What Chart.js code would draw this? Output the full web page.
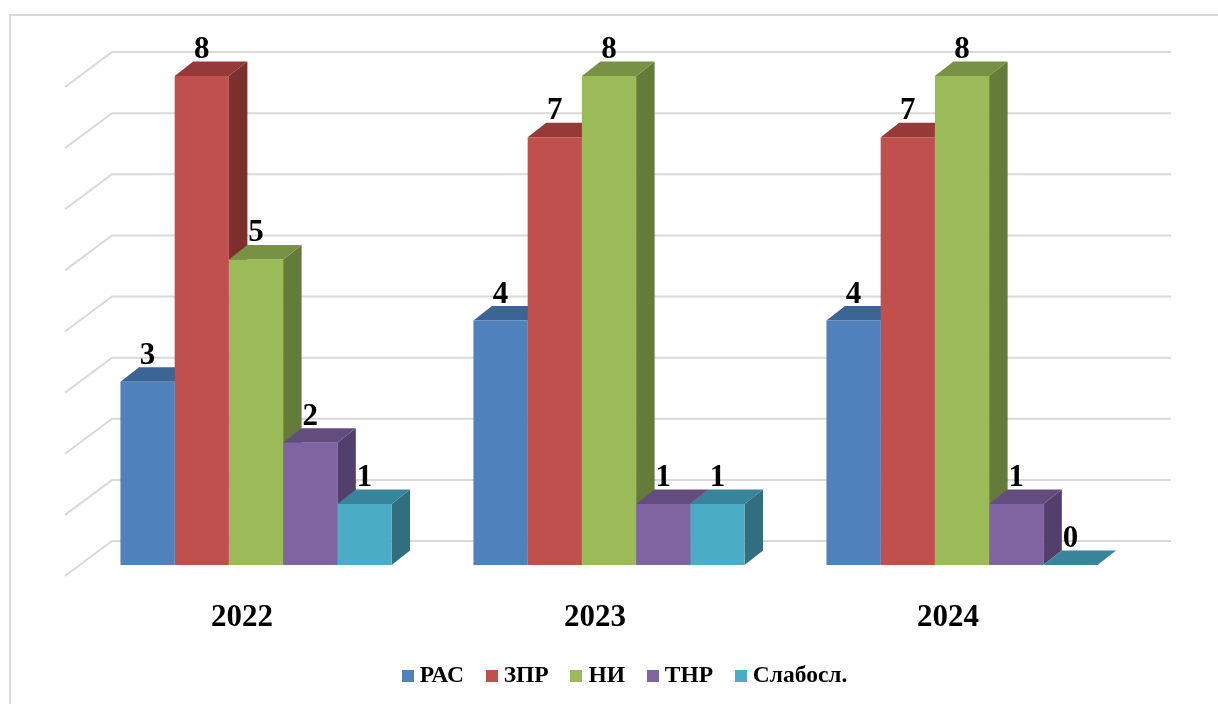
<!DOCTYPE html>
<html>
<head>
<meta charset="utf-8">
<style>
  html, body { margin: 0; padding: 0; background: #fff; }
  #wrap { position: relative; width: 1218px; height: 704px; }
</style>
<script src="https://cdn.jsdelivr.net/npm/chart.js@4"></script>
</head>
<body>
<div id="wrap"><canvas id="chart"></canvas></div>
<script>
const years = ['2022', '2023', '2024'];
const rasValues = [3, 4, 4];
const zprValues = [8, 7, 7];
const niValues = [5, 8, 8];
const thrValues = [2, 1, 1];
const slabValues = [1, 1, 0];
const seriesNames = ['РАС', 'ЗПР', 'НИ', 'ТНР', 'Слабосл.'];
const seriesValues = [rasValues, zprValues, niValues, thrValues, slabValues];
const frontColors = ['#4F81BD', '#C0504D', '#9BBB59', '#8064A2', '#4BACC6'];
const topColors = ['#3C6494', '#953A38', '#779145', '#624D7E', '#38849A'];
const sideColors = ['#325479', '#7B302E', '#657B3A', '#533F6B', '#316E80'];
const valueTicks = [0, 1, 2, 3, 4, 5, 6, 7, 8];

const SERIF = '"Liberation Serif", "Times New Roman", serif';
const DEPTH_X = 18.5;
const DEPTH_Y = 14.5;

function swatch(color) {
  const c = document.createElement('canvas');
  c.width = 12;
  c.height = 12;
  const g = c.getContext('2d');
  g.fillStyle = color;
  g.fillRect(0, 0, 12, 12);
  return c;
}

function generateLabels(chart) {
  const items = Chart.defaults.plugins.legend.labels.generateLabels(chart);
  items.forEach(function (item, i) {
    item.pointStyle = swatch(frontColors[i]);
  });
  return items;
}

// frame, back wall lines, then sides and tops of the bars left to right
const wallPlugin = {
  id: 'wall',
  afterLayout(chart) {
    // the legend sits a little right of the plot centre
    chart.legend.left += 18.5;
    chart.legend.right += 18.5;
  },
  beforeDatasetsDraw(chart) {
    const ctx = chart.ctx;
    const area = chart.chartArea;
    const y = chart.scales.y;
    const base = y.getPixelForValue(0);
    ctx.save();
    ctx.strokeStyle = '#D9D9D9';
    ctx.lineWidth = 2;
    ctx.beginPath();
    ctx.moveTo(10, 704);
    ctx.lineTo(10, 15);
    ctx.lineTo(1218, 15);
    ctx.stroke();
    valueTicks.forEach(function (v) {
      const py = y.getPixelForValue(v);
      ctx.beginPath();
      ctx.moveTo(area.left - 14.5, py + 11);
      ctx.lineTo(area.left + 32.5, py - 24);
      ctx.lineTo(area.right + 32.5, py - 24);
      ctx.stroke();
    });
    chart.data.datasets.forEach(function (ds, i) {
      chart.getDatasetMeta(i).data.forEach(function (bar) {
        const left = bar.x - bar.width / 2;
        const right = bar.x + bar.width / 2;
        ctx.fillStyle = sideColors[i];
        ctx.beginPath();
        ctx.moveTo(right, bar.y);
        ctx.lineTo(right + DEPTH_X, bar.y - DEPTH_Y);
        ctx.lineTo(right + DEPTH_X, base - DEPTH_Y);
        ctx.lineTo(right, base);
        ctx.closePath();
        ctx.fill();
        ctx.fillStyle = topColors[i];
        ctx.beginPath();
        ctx.moveTo(left, bar.y);
        ctx.lineTo(right, bar.y);
        ctx.lineTo(right + DEPTH_X, bar.y - DEPTH_Y);
        ctx.lineTo(left + DEPTH_X, bar.y - DEPTH_Y);
        ctx.closePath();
        ctx.fill();
      });
    });
    ctx.restore();
  },
  afterDatasetsDraw(chart) {
    const ctx = chart.ctx;
    ctx.save();
    ctx.fillStyle = '#000';
    ctx.font = 'bold 31px ' + SERIF;
    ctx.textAlign = 'center';
    ctx.textBaseline = 'middle';
    chart.data.datasets.forEach(function (ds, i) {
      chart.getDatasetMeta(i).data.forEach(function (bar, j) {
        ctx.fillText(ds.data[j], bar.x, bar.y - 26);
      });
    });
    ctx.restore();
  }
};

new Chart(document.getElementById('chart'), {
  type: 'bar',
  data: {
    labels: years,
    datasets: seriesNames.map(function (name, i) {
      return {
        label: name,
        data: seriesValues[i],
        backgroundColor: frontColors[i]
      };
    })
  },
  options: {
    responsive: true,
    maintainAspectRatio: false,
    animation: false,
    layout: { padding: { left: 79.5, right: 79.5, top: 76, bottom: 6 } },
    datasets: { bar: { categoryPercentage: 0.768, barPercentage: 1 } },
    scales: {
      x: {
        grid: { display: false },
        border: { display: false },
        afterFit(scale) { scale.height = 72; },
        ticks: {
          color: '#000',
          labelOffset: -14,
          padding: 26,
          maxRotation: 0,
          font: { family: SERIF, size: 31, weight: 'bold' }
        }
      },
      y: { display: false, min: 0, max: 8, ticks: { stepSize: 1 } }
    },
    plugins: {
      tooltip: { enabled: false },
      legend: {
        position: 'bottom',
        labels: {
          color: '#000',
          usePointStyle: true,
          boxWidth: 0.5,
          padding: 27.5,
          font: { family: SERIF, size: 23.5, weight: 'bold' },
          generateLabels
        }
      }
    }
  },
  plugins: [wallPlugin]
});
</script>
</body>
</html>
